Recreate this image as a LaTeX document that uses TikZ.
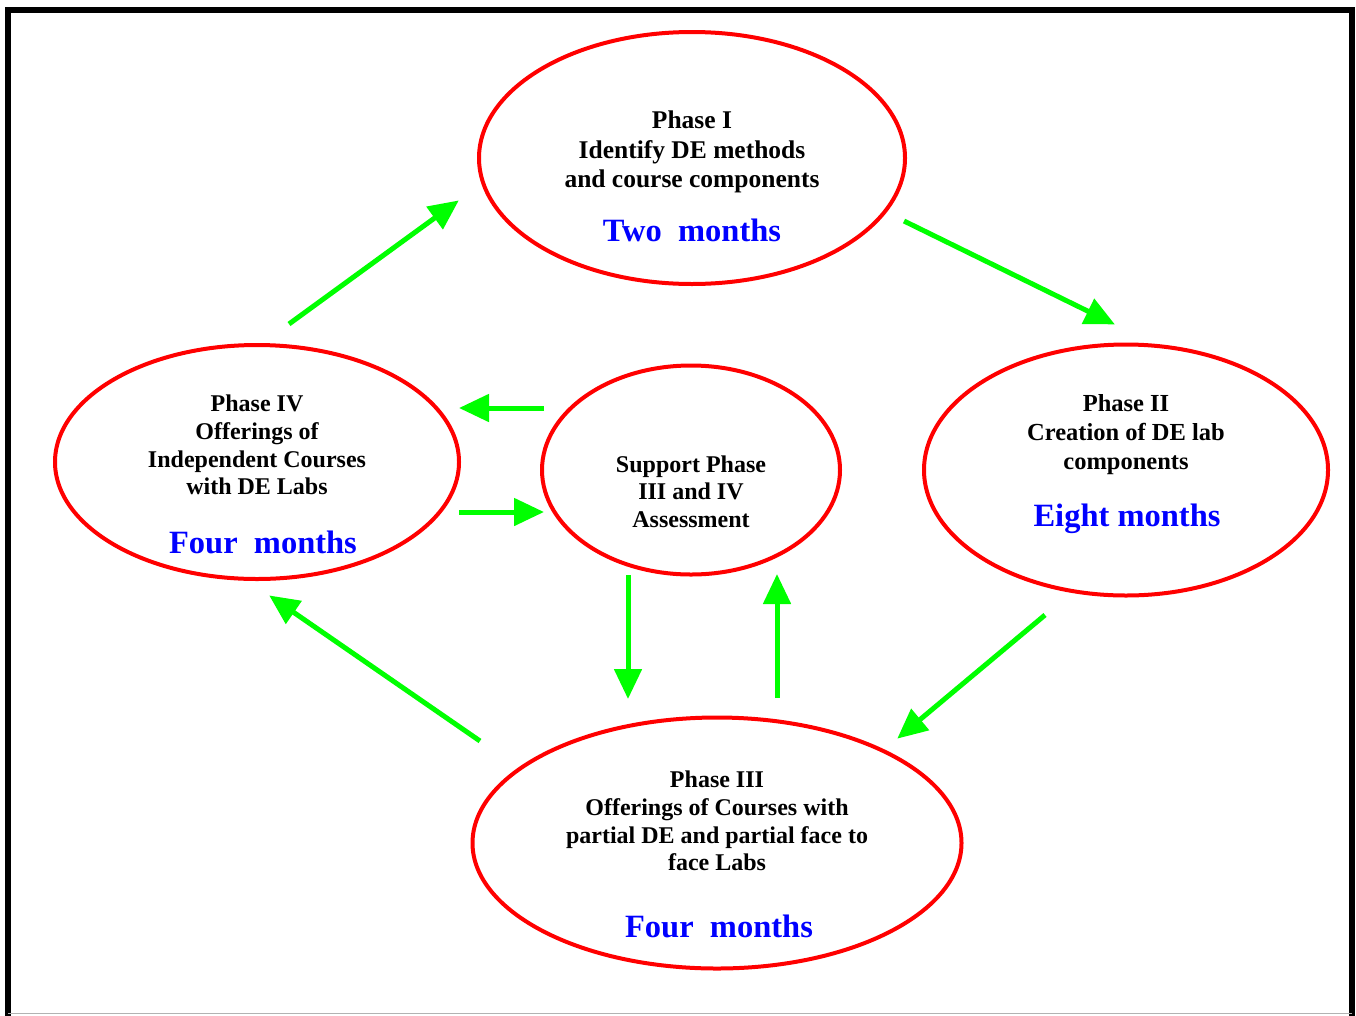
\documentclass[tikz,border=0pt]{standalone}
\usepackage{fontspec}
\setmainfont{Liberation Serif}
\usetikzlibrary{arrows.meta,shapes.geometric}
\definecolor{pred}{RGB}{255,0,0}
\definecolor{pgreen}{RGB}{0,255,0}
\definecolor{pblue}{RGB}{0,0,255}
\tikzset{
  phase/.style={draw=pred, line width=4pt, ellipse, inner sep=0pt},
  body/.style={font=\fontsize{24}{27.7}\selectfont\bfseries, align=center, text=black, inner sep=0pt},
  bodyl/.style={body, font=\fontsize{25.5}{29.5}\selectfont\bfseries},
  bodym/.style={body, font=\fontsize{24.5}{29}\selectfont\bfseries},
  dur/.style={font=\fontsize{32.5}{36}\selectfont\bfseries, text=pblue, inner sep=0pt},
  arr/.style={draw=pgreen, line width=5pt, -{Triangle[length=30pt,width=27pt]}, shorten >=-1pt},
}
\begin{document}
\begin{tikzpicture}[x=1pt,y=-1pt]
\useasboundingbox (0,0) rectangle (1356,1015);
% frame
\draw[black, line width=6pt] (8,1040) -- (8,9.5) -- (1352,9.5) -- (1352,1040);
\draw[gray!60, line width=1pt] (8,1013.5) -- (1352,1013.5);
% ellipses
\node[phase, minimum width=426pt, minimum height=252pt] (p1) at (692,158) {};
\node[phase, minimum width=404pt, minimum height=251pt] (p2) at (1126,470) {};
\node[phase, minimum width=404pt, minimum height=234pt] (p4) at (257,462) {};
\node[phase, minimum width=298pt, minimum height=209pt] (sp) at (691,470) {};
\node[phase, minimum width=489pt, minimum height=251pt] (p3) at (717,843) {};
% texts
\node[bodyl] (p1t) at (692,152) {Phase I\\Identify DE methods\\and course components};
\node[dur] (p1d) at (692,230) {Two\ \ months};
\node[bodym] (p2t) at (1126,435) {Phase II\\Creation of DE lab\\components};
\node[dur] (p2d) at (1127,519) {Eight months};
\node[body] (p4t) at (257,445) {Phase IV\\Offerings of\\Independent Courses\\with DE Labs};
\node[dur] (p4d) at (263,542) {Four\ \ months};
\node[body] (spt) at (691,491.5) {Support Phase\\III and IV\\Assessment};
\node[body] (p3t) at (717,821) {Phase III\\Offerings of Courses with\\partial DE and partial face to\\face Labs};
\node[dur] (p3d) at (719,926) {Four\ \ months};
% connector end points
\coordinate (a41s) at (289,324);  \coordinate (a41e) at (458,201);
\coordinate (a12s) at (904,221);  \coordinate (a12e) at (1114,324);
\coordinate (a23s) at (1045,615); \coordinate (a23e) at (898,738);
\coordinate (a34s) at (480,741);  \coordinate (a34e) at (270,596);
\coordinate (as4s) at (544,408);  \coordinate (as4e) at (460,408);
\coordinate (a4ss) at (459,512);  \coordinate (a4se) at (543,512);
\coordinate (as3s) at (628,575);  \coordinate (as3e) at (628,698);
\coordinate (a3ss) at (777,698);  \coordinate (a3se) at (777,575);
\draw[arr] (a41s) -- (a41e);
\draw[arr] (a12s) -- (a12e);
\draw[arr] (a23s) -- (a23e);
\draw[arr] (a34s) -- (a34e);
\draw[arr] (as4s) -- (as4e);
\draw[arr] (a4ss) -- (a4se);
\draw[arr] (as3s) -- (as3e);
\draw[arr] (a3ss) -- (a3se);
\end{tikzpicture}
\end{document}
